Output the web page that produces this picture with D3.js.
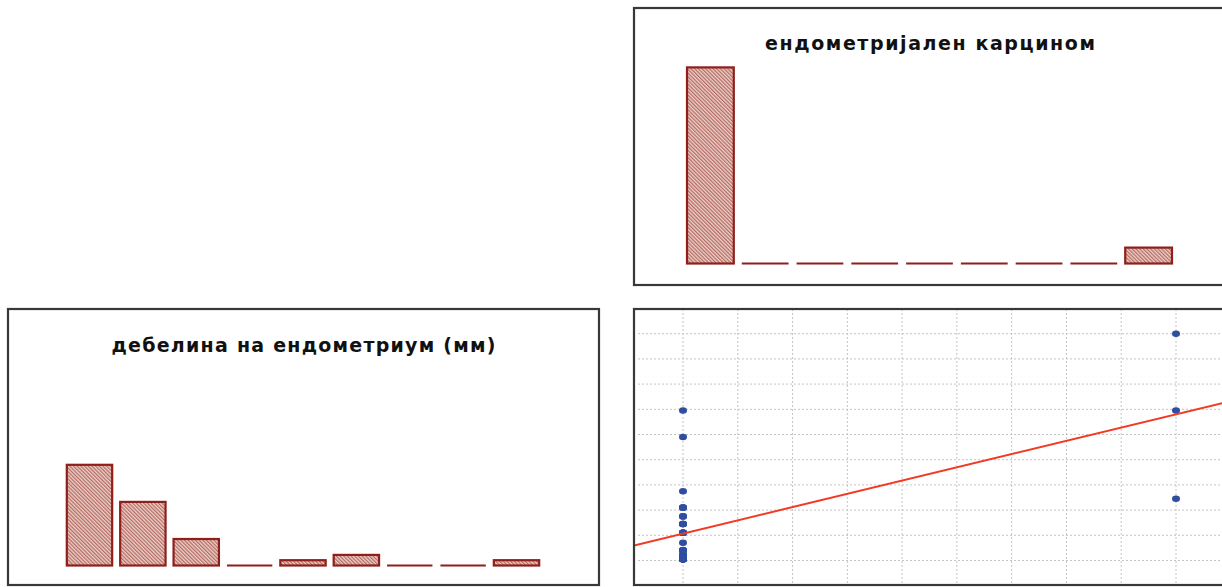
<!DOCTYPE html>
<html>
<head>
<meta charset="utf-8">
<script src="https://cdn.jsdelivr.net/npm/d3@7"></script>
<style>
  html, body { margin: 0; padding: 0; background: #ffffff; }
  svg { display: block; }
</style>
</head>
<body>
<svg id="chart" width="1222" height="587"></svg>
<script>
// ---------------- DATA ----------------
// endometrial thickness (mm) for patients without carcinoma (coded 0)
const thicknessNoCarcinoma = [
  2.1, 2.1, 2.1, 2.1, 2.1, 2.1, 2.1, 2.1, 2.1,
  2.4, 2.4, 2.4, 2.4, 2.4,
  2.8, 2.8, 2.8, 2.8,
  3.4,
  4.2, 4.2, 4.2, 4.2, 4.2, 4.2,
  4.9, 4.9, 4.9, 4.9,
  5.5, 5.5,
  6.2, 6.2, 6.2,
  7.5,
  11.8,
  13.9
];
// endometrial thickness (mm) for patients with carcinoma (coded 1)
const thicknessCarcinoma = [20.0, 13.9, 6.9];

const carcinomaCodes = [0, 1];
const titleCarcinoma = "ендометријален карцином";
const titleThickness = "дебелина на ендометриум (мм)";

// histogram bin definitions
const thicknessDomain = [2, 20];
const thicknessThresholds = [4, 6, 8, 10, 12, 14, 16, 18];
const carcinomaDomain = [0, 1];
const carcinomaThresholds = [1/9, 2/9, 3/9, 4/9, 5/9, 6/9, 7/9, 8/9];

// scatter grid ticks
const scatterXTicks = [-1/9, 0, 1/9, 2/9, 3/9, 4/9, 5/9, 6/9, 7/9, 8/9, 1, 10/9];
const scatterYTicks = [2, 4, 6, 8, 10, 12, 14, 16, 18, 20, 22];

// ---------------- BUILD ----------------
const points = thicknessNoCarcinoma.map(v => ({c: 0, t: v}))
  .concat(thicknessCarcinoma.map(v => ({c: 1, t: v})));
const carcinomaValues = points.map(p => p.c);
const thicknessValues = points.map(p => p.t);

const svg = d3.select("#chart");
const defs = svg.append("defs");

const pat = defs.append("pattern")
  .attr("id", "hatch")
  .attr("patternUnits", "userSpaceOnUse")
  .attr("width", 2.6).attr("height", 2.6)
  .attr("patternTransform", "rotate(-45)");
pat.append("rect").attr("width", 2.6).attr("height", 2.6).attr("fill", "#ecd0ca");
pat.append("line").attr("x1", 0.65).attr("y1", 0).attr("x2", 0.65).attr("y2", 2.6)
  .attr("stroke", "#ad5f55").attr("stroke-width", 1.1);

const barStroke = "#8e1f1a";
const frameColor = "#383838";

const panels = {
  tr: {x: 634, y: 8, w: 592, h: 277},
  bl: {x: 8, y: 309, w: 591, h: 276},
  br: {x: 634, y: 309, w: 592, h: 276}
};

function frame(p) {
  svg.append("rect")
    .attr("x", p.x).attr("y", p.y).attr("width", p.w).attr("height", p.h)
    .attr("fill", "none").attr("stroke", frameColor).attr("stroke-width", 2.2);
}

function title(p, text, y, len) {
  svg.append("text")
    .attr("x", p.x + p.w / 2).attr("y", y)
    .attr("text-anchor", "middle")
    .attr("font-family", "'DejaVu Sans', Verdana, sans-serif")
    .attr("font-weight", "bold")
    .attr("font-size", 19)
    .attr("fill", "#111")
    .attr("textLength", len)
    .attr("lengthAdjust", "spacing")
    .text(text);
}

function histogram(values, domain, thresholds, xRange, baseline, pxPerCount) {
  const bins = d3.bin().domain(domain).thresholds(thresholds)(values);
  const x = d3.scaleLinear().domain(domain).range(xRange);
  const maxCount = d3.max(bins, b => b.length);
  const y = d3.scaleLinear().domain([0, maxCount]).range([baseline, baseline - pxPerCount * maxCount]);
  const g = svg.append("g");
  const inset = 4;
  bins.forEach(b => {
    const x0 = x(b.x0) + inset, x1 = x(b.x1) - inset;
    if (b.length > 0) {
      g.append("rect")
        .attr("x", x0).attr("y", y(b.length))
        .attr("width", x1 - x0).attr("height", y(0) - y(b.length))
        .attr("fill", "url(#hatch)")
        .attr("stroke", barStroke).attr("stroke-width", 2.2);
    } else {
      g.append("line")
        .attr("x1", x0).attr("x2", x1)
        .attr("y1", y(0)).attr("y2", y(0))
        .attr("stroke", barStroke).attr("stroke-width", 2);
    }
  });
}

// ---- top-right: carcinoma histogram ----
frame(panels.tr);
title(panels.tr, titleCarcinoma, 50, 330);
histogram(carcinomaValues, carcinomaDomain, carcinomaThresholds, [683, 1176], 263.5, 5.3);

// ---- bottom-left: thickness histogram ----
frame(panels.bl);
title(panels.bl, titleThickness, 352, 384);
histogram(thicknessValues, thicknessDomain, thicknessThresholds, [62.8, 543.2], 565.5, 5.3);

// ---- bottom-right: scatter ----
const br = panels.br;
defs.append("clipPath").attr("id", "clipBR")
  .append("rect").attr("x", br.x).attr("y", br.y).attr("width", br.w).attr("height", br.h);

const sx = d3.scaleLinear().domain([0, 1]).range([683, 1176]);
const sy = d3.scaleLinear().domain([0, 22]).range([585.7, 308.5]);

const sg = svg.append("g").attr("clip-path", "url(#clipBR)");

sg.selectAll("line.vgrid").data(scatterXTicks).enter().append("line")
  .attr("class", "vgrid")
  .attr("x1", d => sx(d)).attr("x2", d => sx(d))
  .attr("y1", br.y).attr("y2", br.y + br.h)
  .attr("stroke", "#c4c4c4").attr("stroke-width", 1).attr("stroke-dasharray", "2,2");

sg.selectAll("line.hgrid").data(scatterYTicks).enter().append("line")
  .attr("class", "hgrid")
  .attr("x1", br.x + 4).attr("x2", br.x + br.w)
  .attr("y1", d => sy(d)).attr("y2", d => sy(d))
  .attr("stroke", "#c4c4c4").attr("stroke-width", 1).attr("stroke-dasharray", "2,2");

// least-squares regression of thickness on carcinoma code
const mx = d3.mean(points, p => p.c), my = d3.mean(points, p => p.t);
const sxy = d3.sum(points, p => (p.c - mx) * (p.t - my));
const sxx = d3.sum(points, p => (p.c - mx) * (p.c - mx));
const slope = sxy / sxx, intercept = my - slope * mx;
const xa = sx.invert(br.x), xb = sx.invert(br.x + br.w);

sg.selectAll("ellipse.pt").data(points).enter().append("ellipse")
  .attr("class", "pt")
  .attr("cx", d => sx(d.c)).attr("cy", d => sy(d.t))
  .attr("rx", 4).attr("ry", 3.3)
  .attr("fill", "#2f4e9f");

sg.append("line")
  .attr("x1", sx(xa)).attr("y1", sy(intercept + slope * xa))
  .attr("x2", sx(xb)).attr("y2", sy(intercept + slope * xb))
  .attr("stroke", "#f23a22").attr("stroke-width", 2);

frame(br);
</script>
</body>
</html>
